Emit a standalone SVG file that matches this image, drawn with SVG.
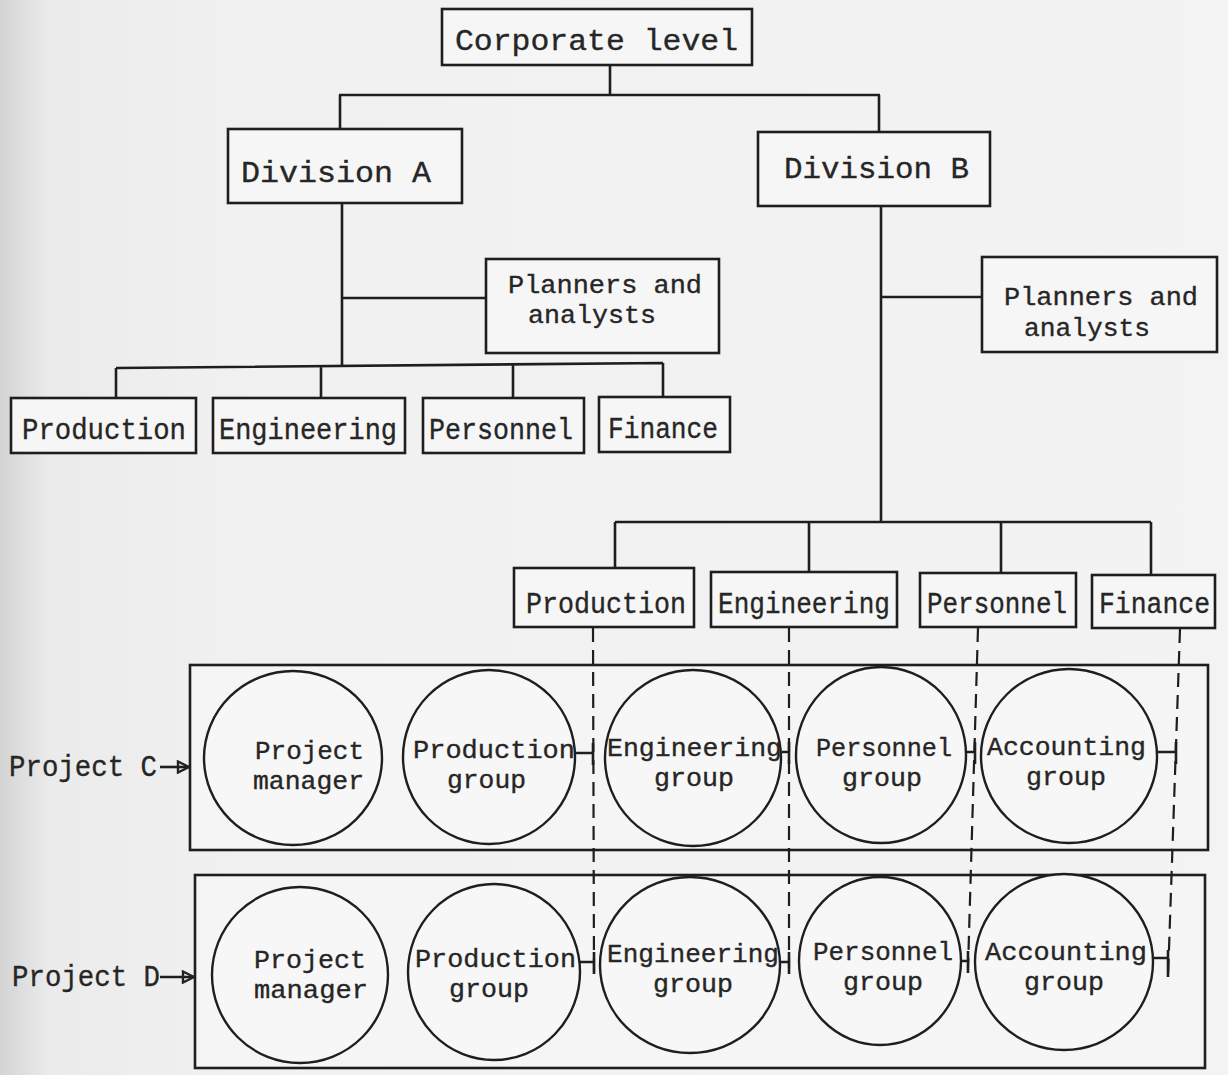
<svg xmlns="http://www.w3.org/2000/svg" width="1228" height="1075" viewBox="0 0 1228 1075">
<defs>
<linearGradient id="bg" x1="0" y1="0" x2="1" y2="0">
<stop offset="0" stop-color="#d4d4d4"/>
<stop offset="0.04" stop-color="#ebebeb"/>
<stop offset="0.2" stop-color="#f1f1f1"/>
<stop offset="1" stop-color="#f3f3f3"/>
</linearGradient>
<marker id="arr" viewBox="0 0 14 14" refX="13" refY="7" markerWidth="14" markerHeight="14" markerUnits="userSpaceOnUse" orient="auto">
<path d="M2,1.5 L13,7 L2,12.5 Z" fill="none" stroke="#222" stroke-width="2.4"/>
</marker>
<style>
.box{fill:#f6f6f6;stroke:#1e1e1e;stroke-width:2.6}
.ell{fill:#f7f7f7;stroke:#1e1e1e;stroke-width:2.4}
.proj{fill:#f5f5f5;stroke:#1e1e1e;stroke-width:2.6}
.ln{fill:none;stroke:#1e1e1e;stroke-width:2.6}
.dash{fill:none;stroke:#1e1e1e;stroke-width:2.2;stroke-dasharray:14 8}
text{font-family:"Liberation Mono","DejaVu Sans Mono",monospace;font-size:30px;fill:#262626;stroke:#262626;stroke-width:0.35}
text.two{font-size:26px}
</style>
</defs>
<rect x="0" y="0" width="1228" height="1075" fill="url(#bg)"/>

<g id="projectC">
<rect class="proj" x="190" y="665" width="1018" height="185"/>
</g>
<g id="projectD">
<rect class="proj" x="195" y="875" width="1010" height="193"/>
</g>

<g id="connectors">
<path class="ln" d="M610,65 V95 M339,95 H880 M340,95 V129 M879,95 V132"/>
<path class="ln" d="M342,203 V367 M342,298 H486 M116,368 L663,363 M116,368 V398 M321,366 V398 M513,365 V398 M663,363 V397"/>
<path class="ln" d="M881,206 V522 M881,297 H982 M615,522 H1151 M615,522 V568 M809,522 V572 M1001,522 V573 M1151,522 V575"/>
<path class="dash" d="M593,628 L594,972"/>
<path class="dash" d="M789,628 L789,968"/>
<path class="dash" d="M978,628 L968,968"/>
<path class="dash" d="M1180,629 L1168,978"/>
<path class="ln" d="M575,753 H593 M593,743 V765 M782,752 H789 M789,742 V764 M966,752 H975 M975,742 V764 M1158,752 H1176 M1176,742 V764"/>
<path class="ln" d="M580,962 H594 M594,952 V974 M779,962 H789 M789,952 V974 M961,961 H968 M968,951 V973 M1153,958 H1168 M1168,950 V977"/>
<path class="ln" d="M160,767 H189" marker-end="url(#arr)"/>
<path class="ln" d="M160,977 H194" marker-end="url(#arr)"/>
</g>

<g id="corporate">
<rect class="box" x="442" y="9" width="310" height="56"/>
<text x="455" y="50" textLength="283" lengthAdjust="spacingAndGlyphs">Corporate level</text>
</g>
<g id="divisionA">
<rect class="box" x="228" y="129" width="234" height="74"/>
<text x="241" y="182" textLength="190" lengthAdjust="spacingAndGlyphs">Division A</text>
</g>
<g id="divisionB">
<rect class="box" x="758" y="132" width="232" height="74"/>
<text x="784" y="178" textLength="185" lengthAdjust="spacingAndGlyphs">Division B</text>
</g>
<g id="plannersA">
<rect class="box" x="486" y="259" width="233" height="94"/>
<text class="two" x="508" y="293" textLength="194" lengthAdjust="spacingAndGlyphs">Planners and</text>
<text class="two" x="528" y="323" textLength="128" lengthAdjust="spacingAndGlyphs">analysts</text>
</g>
<g id="plannersB">
<rect class="box" x="982" y="257" width="235" height="95"/>
<text class="two" x="1004" y="305" textLength="194" lengthAdjust="spacingAndGlyphs">Planners and</text>
<text class="two" x="1024" y="336" textLength="126" lengthAdjust="spacingAndGlyphs">analysts</text>
</g>

<g id="productionA">
<rect class="box" x="11" y="398" width="185" height="55"/>
<text x="22" y="439" textLength="164" lengthAdjust="spacingAndGlyphs">Production</text>
</g>
<g id="engineeringA">
<rect class="box" x="213" y="398" width="192" height="55"/>
<text x="219" y="439" textLength="178" lengthAdjust="spacingAndGlyphs">Engineering</text>
</g>
<g id="personnelA">
<rect class="box" x="423" y="398" width="161" height="55"/>
<text x="429" y="439" textLength="144" lengthAdjust="spacingAndGlyphs">Personnel</text>
</g>
<g id="financeA">
<rect class="box" x="599" y="397" width="131" height="55"/>
<text x="608" y="438" textLength="110" lengthAdjust="spacingAndGlyphs">Finance</text>
</g>

<g id="productionB">
<rect class="box" x="514" y="568" width="180" height="59"/>
<text x="526" y="613" textLength="160" lengthAdjust="spacingAndGlyphs">Production</text>
</g>
<g id="engineeringB">
<rect class="box" x="711" y="572" width="186" height="55"/>
<text x="718" y="613" textLength="172" lengthAdjust="spacingAndGlyphs">Engineering</text>
</g>
<g id="personnelB">
<rect class="box" x="920" y="573" width="156" height="54"/>
<text x="927" y="613" textLength="140" lengthAdjust="spacingAndGlyphs">Personnel</text>
</g>
<g id="financeB">
<rect class="box" x="1092" y="575" width="123" height="53"/>
<text x="1099" y="613" textLength="111" lengthAdjust="spacingAndGlyphs">Finance</text>
</g>

<g id="labelC"><text x="9" y="776" textLength="148" lengthAdjust="spacingAndGlyphs">Project C</text></g>
<g id="pmC">
<ellipse class="ell" cx="293" cy="758" rx="89" ry="87"/>
<text class="two" x="255" y="759" textLength="109" lengthAdjust="spacingAndGlyphs">Project</text>
<text class="two" x="253" y="789" textLength="111" lengthAdjust="spacingAndGlyphs">manager</text>
</g>
<g id="prodC">
<ellipse class="ell" cx="489" cy="757" rx="86" ry="87"/>
<text class="two" x="413" y="758" textLength="162" lengthAdjust="spacingAndGlyphs">Production</text>
<text class="two" x="447" y="788" textLength="79" lengthAdjust="spacingAndGlyphs">group</text>
</g>
<g id="engC">
<ellipse class="ell" cx="693" cy="758" rx="88" ry="88"/>
<text class="two" x="607" y="756" textLength="175" lengthAdjust="spacingAndGlyphs">Engineering</text>
<text class="two" x="654" y="786" textLength="80" lengthAdjust="spacingAndGlyphs">group</text>
</g>
<g id="persC">
<ellipse class="ell" cx="881" cy="755" rx="85" ry="88"/>
<text class="two" x="816" y="756" textLength="136" lengthAdjust="spacingAndGlyphs">Personnel</text>
<text class="two" x="842" y="786" textLength="80" lengthAdjust="spacingAndGlyphs">group</text>
</g>
<g id="accC">
<ellipse class="ell" cx="1069" cy="756" rx="88" ry="87"/>
<text class="two" x="987" y="755" textLength="159" lengthAdjust="spacingAndGlyphs">Accounting</text>
<text class="two" x="1026" y="785" textLength="80" lengthAdjust="spacingAndGlyphs">group</text>
</g>

<g id="labelD"><text x="12" y="986" textLength="148" lengthAdjust="spacingAndGlyphs">Project D</text></g>
<g id="pmD">
<ellipse class="ell" cx="300" cy="975" rx="88" ry="88"/>
<text class="two" x="254" y="968" textLength="112" lengthAdjust="spacingAndGlyphs">Project</text>
<text class="two" x="254" y="998" textLength="114" lengthAdjust="spacingAndGlyphs">manager</text>
</g>
<g id="prodD">
<ellipse class="ell" cx="494" cy="972" rx="86" ry="88"/>
<text class="two" x="415" y="967" textLength="161" lengthAdjust="spacingAndGlyphs">Production</text>
<text class="two" x="449" y="997" textLength="80" lengthAdjust="spacingAndGlyphs">group</text>
</g>
<g id="engD">
<ellipse class="ell" cx="690" cy="965" rx="90" ry="88"/>
<text class="two" x="607" y="962" textLength="172" lengthAdjust="spacingAndGlyphs">Engineering</text>
<text class="two" x="653" y="992" textLength="80" lengthAdjust="spacingAndGlyphs">group</text>
</g>
<g id="persD">
<ellipse class="ell" cx="880" cy="961" rx="81" ry="84"/>
<text class="two" x="813" y="960" textLength="140" lengthAdjust="spacingAndGlyphs">Personnel</text>
<text class="two" x="843" y="990" textLength="80" lengthAdjust="spacingAndGlyphs">group</text>
</g>
<g id="accD">
<ellipse class="ell" cx="1064" cy="962" rx="89" ry="88"/>
<text class="two" x="985" y="960" textLength="162" lengthAdjust="spacingAndGlyphs">Accounting</text>
<text class="two" x="1024" y="990" textLength="80" lengthAdjust="spacingAndGlyphs">group</text>
</g>
</svg>
